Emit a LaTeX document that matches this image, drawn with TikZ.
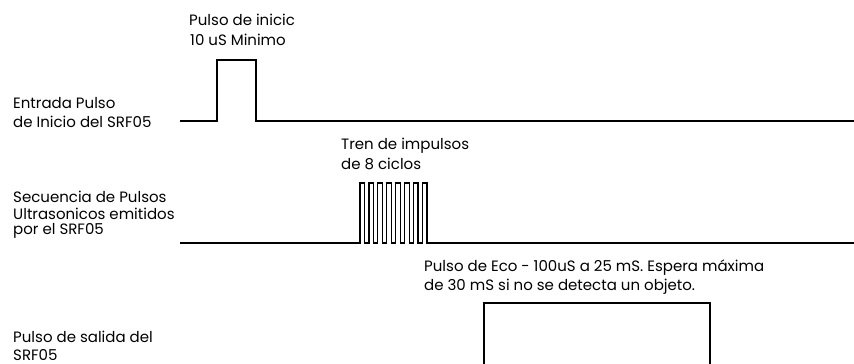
\documentclass[tikz,border=0pt]{standalone}
\usepackage{fontspec}
\setmainfont{Poppins}
\begin{document}
\begin{tikzpicture}[x=1pt,y=-1pt,
  wave/.style={draw=black,line width=1.2pt},
  lbl/.style={anchor=west,inner sep=0pt,align=left,font=\fontsize{15}{18}\selectfont}]
\useasboundingbox (0,0) rectangle (854,364);
% signal 1
\draw[wave] (180,121) -- (217,121) -- (217,60) -- (256,60) -- (256,121) -- (854,121);
\node[lbl] (t1) at (189,20) {Pulso de inicic};
\node[lbl] (t1b) at (190,40) {10 uS Minimo};
\node[lbl] (l1) at (13,103) {Entrada Pulso};
\node[lbl] (l1b) at (13,122) {de Inicio del SRF05};
% signal 2
\draw[wave] (180,243) -- (360,243)
  \foreach \i in {0,...,7}{ -- ({360+8.9*\i},243) -- ({360+8.9*\i},183) -- ({364.6+8.9*\i},183) -- ({364.6+8.9*\i},243)}
  -- (854,243);
\node[lbl] (t2) at (341,146) {Tren de impulsos};
\node[lbl] (t2b) at (341,164) {de 8 ciclos};
\node[lbl] (l2) at (13,197) {Secuencia de Pulsos};
\node[lbl] (l2b) at (13,214) {Ultrasonicos emitidos};
\node[lbl] (l2c) at (13,231) {por el SRF05};
% signal 3
\draw[wave] (484,366) -- (484,303) -- (710,303) -- (710,366);
\node[lbl] (t3) at (424,268) {Pulso de Eco - 100uS a 25 mS. Espera máxima};
\node[lbl] (t3b) at (424,287) {de 30 mS si no se detecta un objeto.};
\node[lbl] (l3) at (13,337) {Pulso de salida del};
\node[lbl] (l3b) at (13,355) {SRF05};
\end{tikzpicture}
\end{document}
